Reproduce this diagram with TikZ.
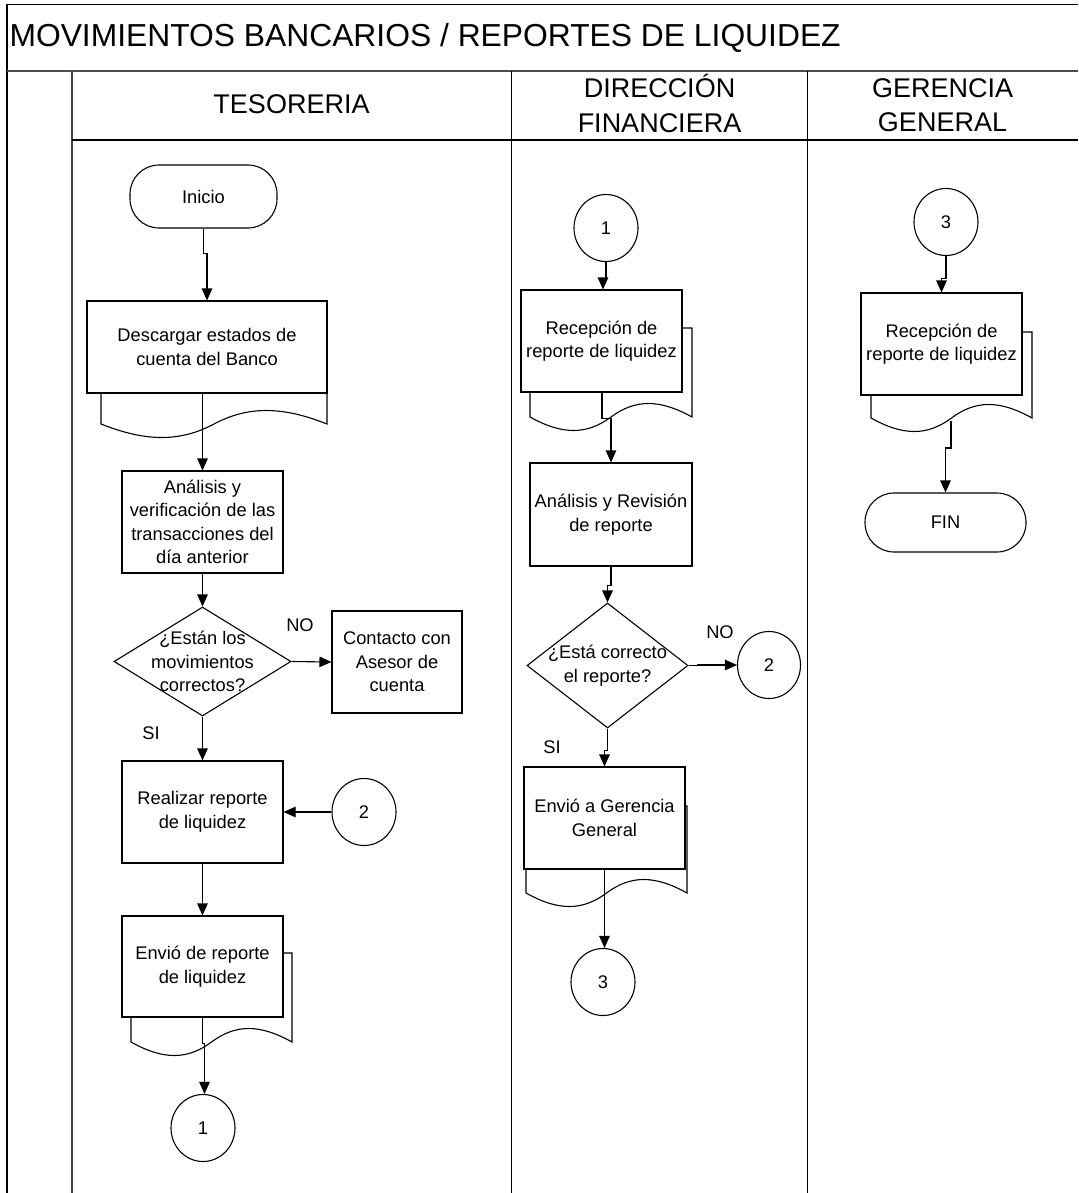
\documentclass[tikz,border=0pt]{standalone}
\usepackage{fontspec}
\setmainfont{Liberation Sans}
\usetikzlibrary{arrows.meta,shapes.geometric}

% Document symbol drawn behind a process box: left, top, right, wave base
\newcommand\docshape[4]{%
  \draw[fill=white] (#1,#2) -- (#1,#4)
    .. controls ({#1+0.2*(#3-#1)},{#4+18}) and ({#1+0.35*(#3-#1)},{#4+18}) .. ({#1+0.5*(#3-#1)},#4)
    .. controls ({#1+0.65*(#3-#1)},{#4-18}) and ({#1+0.8*(#3-#1)},{#4-18}) .. (#3,#4)
    -- (#3,#2) -- cycle;}

\begin{document}
\begin{tikzpicture}[x=1pt,y=-1pt,
  line width=1.1pt,
  body/.style={font=\fontsize{18.3pt}{23.5pt}\selectfont, align=center, inner sep=0pt},
  head/.style={font=\fontsize{27pt}{34.3pt}\selectfont, align=center, inner sep=0pt},
  proc/.style={body, draw, fill=white},
  term/.style={body, draw, fill=white, rounded corners=29pt},
  conn/.style={body, ellipse, draw, fill=white, minimum width=64pt, minimum height=67pt},
  decision/.style={diamond, draw, fill=white, inner sep=0pt},
  arr/.style={-{Triangle[length=12pt,width=10.5pt]}},
]
\useasboundingbox (0,0) rectangle (1078,1193);

% ---- frame and swimlanes ----
\draw[line width=1.4pt] (7,4.5) -- (1078,4.5);
\draw[line width=1.4pt] (7,4.5) -- (7,1193);
\draw[line width=2.2pt, black!70] (7,71) -- (1078,71);
\draw[line width=2pt, black!75] (72,71) -- (72,1193);
\draw[line width=1.3pt] (511.5,71) -- (511.5,1193);
\draw[line width=1.3pt] (807.5,71) -- (807.5,1193);
\draw[line width=1.3pt] (72,140) -- (1078,140);

\node[anchor=base west, inner sep=0pt, font=\fontsize{31.8pt}{32pt}\selectfont] (title) at (9,47)
  {MOVIMIENTOS BANCARIOS / REPORTES DE LIQUIDEZ};
\node[head] (h1) at (291.5,104.5) {TESORERIA};
\node[head] (h2) at (659.5,103.5) {DIRECCIÓN\\FINANCIERA};
\node[head] (h3) at (942.5,105.5) {GERENCIA\\GENERAL};

% ---- document symbols (behind their boxes) ----
\docshape{101}{360}{327}{424}
\docshape{131}{953}{292}{1042}
\docshape{530}{328}{692}{417}
\docshape{526}{806}{687}{893}
\docshape{871}{332}{1032}{418}

% ---- TESORERIA ----
\node[term, minimum width=147pt, minimum height=63pt] (inicio) at (203.5,196.5) {Inicio};
\node[proc, minimum width=240pt, minimum height=92pt] (desc) at (207,347)
  {Descargar estados de\\cuenta del Banco};
\node[proc, minimum width=161pt, minimum height=102pt] (anal) at (202.5,522)
  {Análisis y\\verificación de las\\transacciones del\\día anterior};
\node[decision, minimum width=177pt, minimum height=109pt] (dec1) at (202.5,661.5) {};
\node[body] (dec1t) at (dec1.center) {¿Están los\\movimientos\\correctos?};
\node[proc, minimum width=130pt, minimum height=102pt] (contacto) at (397,662)
  {Contacto con\\Asesor de\\cuenta};
\node[proc, minimum width=161pt, minimum height=102pt] (realizar) at (202.5,812)
  {Realizar reporte\\de liquidez};
\node[conn] (c2a) at (364,812) {2};
\node[proc, minimum width=161pt, minimum height=101pt] (envio1) at (202.5,966.5)
  {Envió de reporte\\de liquidez};
\node[conn] (c1a) at (203,1128) {1};
\node[body] (no1) at (300,625) {NO};
\node[body] (si1) at (151,733) {SI};

% ---- DIRECCIÓN FINANCIERA ----
\node[conn] (c1b) at (606,228) {1};
\node[proc, minimum width=161pt, minimum height=102pt] (recep1) at (601.5,341)
  {Recepción de\\reporte de liquidez};
\node[proc, minimum width=162pt, minimum height=103pt] (anrev) at (611,514.5)
  {Análisis y Revisión\\de reporte};
\node[decision, minimum width=161pt, minimum height=125pt] (dec2) at (607.5,665.5) {};
\node[body] (dec2t) at (dec2.center) {¿Está correcto\\el reporte?};
\node[conn, minimum width=63pt] (c2b) at (769,665) {2};
\node[proc, minimum width=161pt, minimum height=102pt] (envio2) at (604.5,818)
  {Envió a Gerencia\\General};
\node[conn] (c3a) at (603,982) {3};
\node[body] (no2) at (720,632) {NO};
\node[body] (si2) at (552,747) {SI};

% ---- GERENCIA GENERAL ----
\node[conn] (c3b) at (946,222) {3};
\node[proc, minimum width=161pt, minimum height=102pt] (recep2) at (941.5,344)
  {Recepción de\\reporte de liquidez};
\node[term, minimum width=161pt, minimum height=59pt] (fin) at (945.5,522.5) {FIN};
\coordinate (w5) at (951,421);

% ---- connectors ----
\draw[arr] (inicio.south) -- ++(0,25) -| (desc.north);
\draw[arr] (desc.south -| anal.north) -- (anal.north);
\draw[arr] (anal.south) -- (dec1.north);
\draw[arr] (dec1.east) -- (contacto.west);
\draw[arr] (dec1.south) -- (realizar.north);
\draw[arr] (c2a.west) -- (realizar.east);
\draw[arr] (realizar.south) -- (envio1.north);
\draw[arr] (envio1.south) -- ++(0,26) -| ([xshift=1.5pt]c1a.north);

\draw[arr] (c1b.south) -- ++(0,17) -| ([xshift=1.5pt]recep1.north);
\draw[arr] ([xshift=0.5pt]recep1.south) -- ++(0,26) -| (anrev.north);
\draw[arr] (anrev.south) -- ++(0,19) -| (dec2.north);
\draw[arr] (dec2.east) -- ++(9,0) |- (c2b.west);
\draw[arr] (dec2.south) -- ++(0,22) -| (envio2.north);
\draw[arr] (envio2.south) -- (envio2.south |- c3a.north);

\draw[arr] (c3b.south) -- ++(0,22) -| (recep2.north);
\draw[arr] (w5) -- ++(0,27) -| (fin.north);
\end{tikzpicture}
\end{document}
